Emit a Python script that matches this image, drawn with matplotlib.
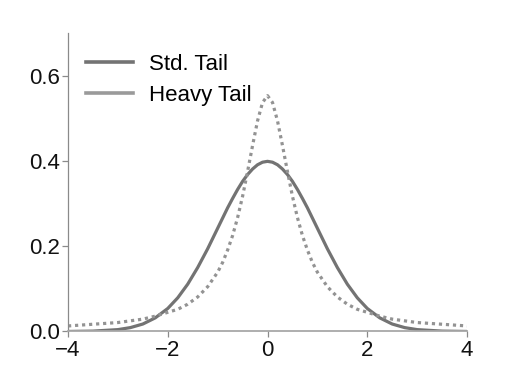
import matplotlib
matplotlib.use("Agg")
import matplotlib.pyplot as plt

plt.rcParams['font.family'] = ['Liberation Sans', 'DejaVu Sans']
plt.rcParams['axes.unicode_minus'] = True

# values
x = [-4.0, -3.5, -3.0, -2.75, -2.5, -2.25, -2.0, -1.8, -1.6, -1.4, -1.2,
     -1.0, -0.9, -0.8, -0.7, -0.6, -0.5, -0.4, -0.3, -0.2, -0.1, 0.0,
     0.1, 0.2, 0.3, 0.4, 0.5, 0.6, 0.7, 0.8, 0.9, 1.0,
     1.2, 1.4, 1.6, 1.8, 2.0, 2.25, 2.5, 2.75, 3.0, 3.5, 4.0]
std_tail = [0.0001, 0.0009, 0.0044, 0.0091, 0.0175, 0.032, 0.054, 0.079,
            0.111, 0.150, 0.194, 0.242, 0.266, 0.290, 0.312, 0.333, 0.352,
            0.368, 0.381, 0.391, 0.397, 0.399,
            0.397, 0.391, 0.381, 0.368, 0.352, 0.333, 0.312, 0.290, 0.266,
            0.242, 0.194, 0.150, 0.111, 0.079, 0.054, 0.032, 0.0175,
            0.0091, 0.0044, 0.0009, 0.0001]
heavy_tail = [0.013, 0.017, 0.021, 0.025, 0.029, 0.036, 0.045, 0.052,
              0.064, 0.081, 0.105, 0.139, 0.162, 0.191, 0.225, 0.267, 0.317,
              0.375, 0.436, 0.494, 0.537, 0.553,
              0.537, 0.494, 0.436, 0.375, 0.317, 0.267, 0.225, 0.191, 0.162,
              0.139, 0.105, 0.081, 0.064, 0.052, 0.045, 0.036, 0.029,
              0.025, 0.021, 0.017, 0.013]
labels = ["Std. Tail", "Heavy Tail"]

fig = plt.figure(figsize=(5.26, 3.65), dpi=100)
ax = fig.add_axes([0.1293, 0.0918, 0.7586, 0.8178])

ax.plot(x, std_tail, color='#737373', lw=2.3, solid_capstyle='butt')
ax.plot(x, heavy_tail, color='#939393', lw=2.3, linestyle=(0, (1, 1.2)))

# legend shows solid handles for both series
h1, = ax.plot([], [], color='#737373', lw=2.6)
h2, = ax.plot([], [], color='#9a9a9a', lw=2.6)
ax.legend([h1, h2], labels, loc='upper left', bbox_to_anchor=(0.045, 0.93),
          frameon=False, fontsize=16, borderpad=0, borderaxespad=0,
          handlelength=2.1, handletextpad=0.75, labelspacing=0.45)

ax.set_xlim(-4, 4)
ax.set_ylim(0, 0.7)
ax.set_xticks([-4, -2, 0, 2, 4])
ax.set_yticks([0.0, 0.2, 0.4, 0.6])
ax.set_yticklabels(['0.0', '0.2', '0.4', '0.6'])

for s in ['top', 'right']:
    ax.spines[s].set_visible(False)
ax.spines['left'].set_color('#8a8a8a')
ax.spines['left'].set_linewidth(0.9)
ax.spines['bottom'].set_color('#a8a8a8')
ax.spines['bottom'].set_linewidth(1.3)
ax.tick_params(axis='both', direction='out', length=4, width=0.9,
               color='#8a8a8a', labelsize=16, pad=2, labelcolor='#111111')

fig.savefig('out.png', dpi=100)
